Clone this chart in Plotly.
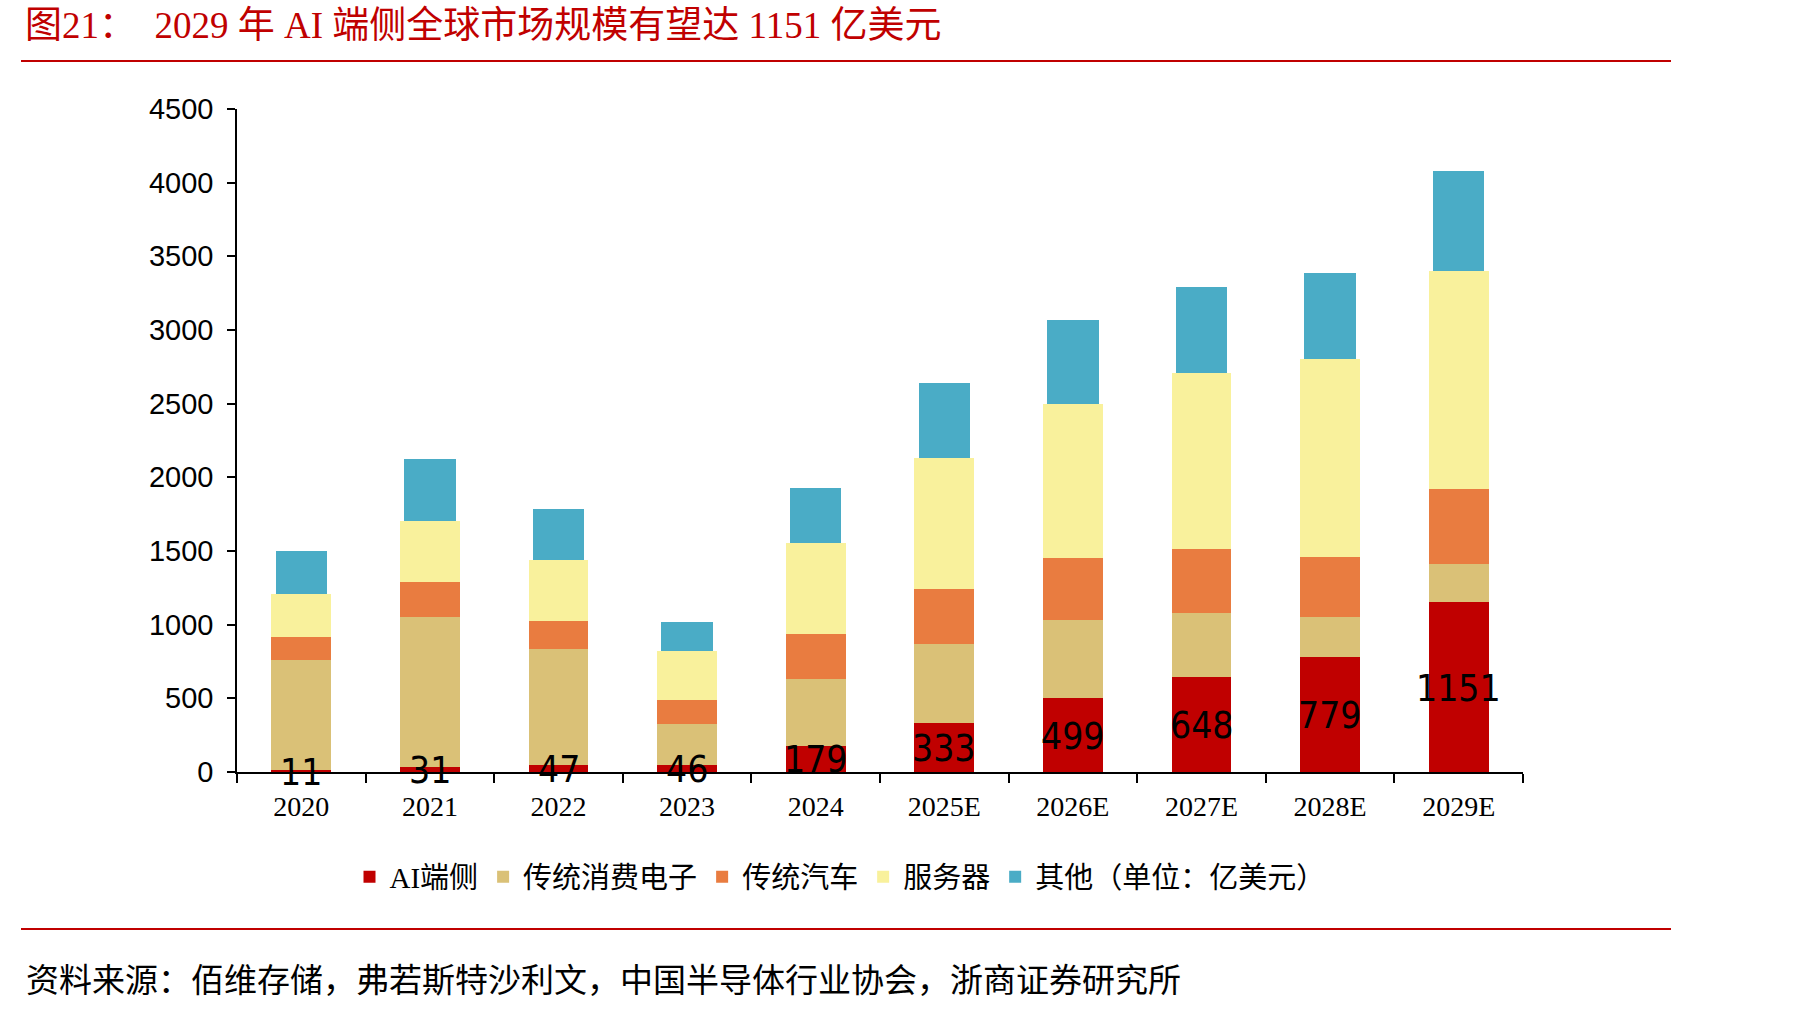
import plotly.graph_objects as go

categories = ["2020", "2021", "2022", "2023", "2024", "2025E", "2026E", "2027E", "2028E", "2029E"]
ai_edge = [11, 31, 47, 46, 179, 333, 499, 648, 779, 1151]
consumer = [750, 1019, 786, 281, 454, 534, 533, 433, 275, 263]
auto = [158, 241, 194, 164, 302, 378, 423, 430, 405, 504]
server = [286, 412, 410, 331, 621, 888, 1044, 1198, 1341, 1483]
other = [293, 422, 349, 194, 375, 506, 569, 580, 588, 680]

series_names = ["AI端侧", "传统消费电子", "传统汽车", "服务器", "其他（单位：亿美元）"]
colors = ["#C00000", "#DAC177", "#E97C40", "#F9F19C", "#4AACC6"]
y_ticks = [0, 500, 1000, 1500, 2000, 2500, 3000, 3500, 4000, 4500]

title_text = "图21：\u30002029 年 AI 端侧全球市场规模有望达 1151 亿美元"
source_text = "资料来源：佰维存储，弗若斯特沙利文，中国半导体行业协会，浙商证券研究所"

W, H = 1798, 1014
L, R, T, B = 237, 275, 109, 242
PW, PH = W - L - R, H - T - B


def px_x(x):
    return (x - L) / PW


def px_y(y):
    return (H - B - y) / PH


serif = "Liberation Serif, Times New Roman, Noto Sans CJK SC, serif"
cjk = "Liberation Serif, Noto Sans CJK SC, sans-serif"
label_font = dict(family="Liberation Sans Narrow, DejaVu Sans Condensed, Arial Narrow, sans-serif",
                  size=37, color="#000000")

fig = go.Figure()
all_series = [ai_edge, consumer, auto, server, other]
for name, vals, col in zip(series_names, all_series, colors):
    w = 0.40 if name.startswith("其他") else 0.465
    fig.add_trace(go.Bar(
        x=categories, y=vals, name=name,
        marker=dict(color=col, line=dict(width=0)),
        width=[w] * len(categories),
    ))

# data labels of the AI edge series, centred in its segment (x given as category index)
annotations = [
    dict(x=i, y=v / 2, xref="x", yref="y", text=str(v), showarrow=False,
         xanchor="center", yanchor="middle", yshift=-1, font=label_font)
    for i, v in enumerate(ai_edge)
]
annotations.append(
    dict(text=source_text, xref="paper", yref="paper", x=px_x(24), y=px_y(981),
         xanchor="left", yanchor="middle", showarrow=False,
         font=dict(family=cjk, size=33, color="#000000"))
)

fig.update_layout(
    width=W, height=H,
    barmode="stack",
    bargap=0,
    plot_bgcolor="white", paper_bgcolor="white",
    margin=dict(l=L, r=R, t=T, b=B, autoexpand=False),
    title=dict(text=title_text, x=25 / W, xanchor="left", y=1 - 25 / H, yanchor="middle",
               font=dict(family=cjk, size=37, color="#C00000")),
    legend=dict(orientation="h", x=px_x(840), xanchor="center", y=px_y(877), yanchor="middle",
                traceorder="normal", font=dict(family=cjk, size=29, color="#000000"),
                bgcolor="rgba(0,0,0,0)"),
    xaxis=dict(
        type="category", range=[-0.5, 9.5],
        showline=True, linecolor="#000000", linewidth=2,
        ticks="outside", tickson="boundaries", ticklen=9, tickwidth=1.5, tickcolor="#000000",
        tickfont=dict(family=serif, size=28, color="#000000"),
        ticklabelstandoff=8,
        showgrid=False, zeroline=False,
    ),
    yaxis=dict(
        range=[0, 4500], tickvals=y_ticks,
        showline=True, linecolor="#000000", linewidth=1.5,
        ticks="outside", ticklen=8, tickwidth=1.5, tickcolor="#000000",
        tickfont=dict(family="Liberation Sans, Arial, sans-serif", size=29, color="#000000"),
        ticklabelstandoff=8,
        showgrid=False, zeroline=False,
    ),
    shapes=[
        dict(type="line", xref="paper", yref="paper", x0=px_x(21), x1=px_x(1671),
             y0=px_y(61), y1=px_y(61), line=dict(color="#C00000", width=2)),
        dict(type="line", xref="paper", yref="paper", x0=px_x(21), x1=px_x(1671),
             y0=px_y(929), y1=px_y(929), line=dict(color="#C00000", width=2)),
    ],
    annotations=annotations,
)

fig.write_html("out.html")
